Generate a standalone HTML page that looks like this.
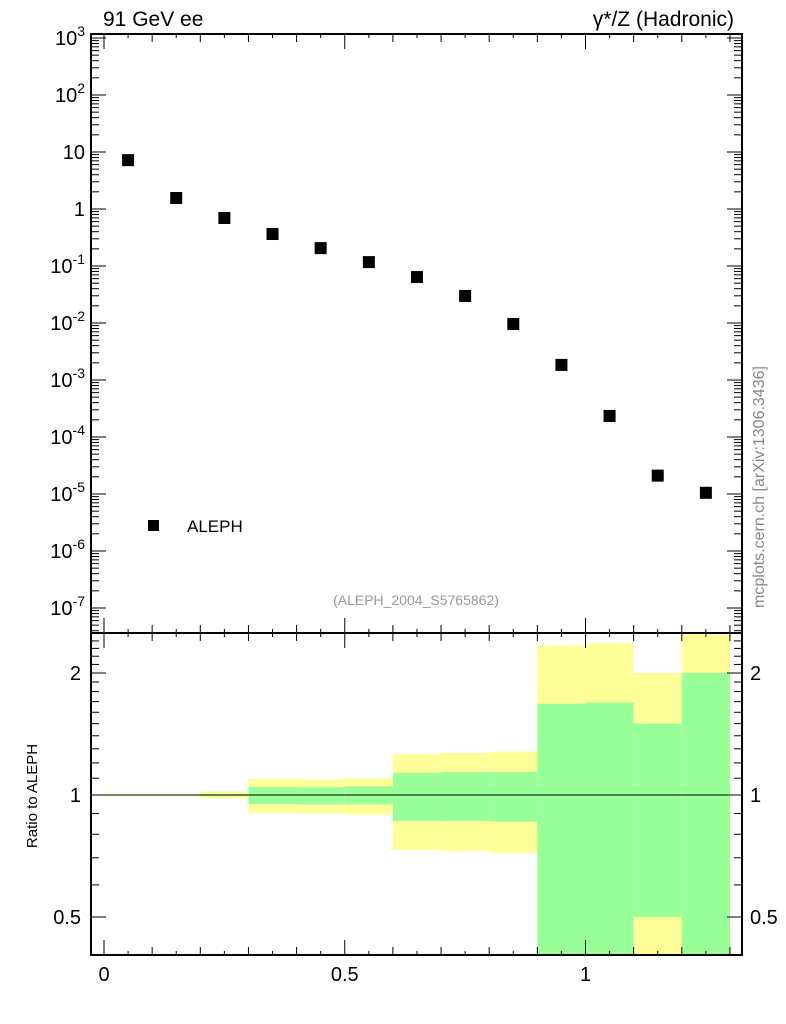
<!DOCTYPE html>
<html><head><meta charset="utf-8"><style>
body{margin:0;background:#fff}
svg{display:block;font-family:"Liberation Sans",sans-serif}
</style></head><body>
<svg id="c" width="786" height="1024" xmlns="http://www.w3.org/2000/svg"></svg>
<script>
const xCenters=[0.05,0.15,0.25,0.35,0.45,0.55,0.65,0.75,0.85,0.95,1.05,1.15,1.25];
const alephValues=[7.2,1.56,0.695,0.364,0.206,0.117,0.064,0.0298,0.0096,0.00184,0.000234,2.1e-5,1.05e-5];
const binLo=[0,0.1,0.2,0.3,0.4,0.5,0.6,0.7,0.8,0.9,1.0,1.1,1.2];
const binHi=[0.1,0.2,0.3,0.4,0.5,0.6,0.7,0.8,0.9,1.0,1.1,1.2,1.3];
const yellowUp=[1.005,1.005,1.02,1.095,1.093,1.1,1.262,1.27,1.28,2.34,2.37,2.0,2.6];
const yellowDn=[0.995,0.995,0.98,0.903,0.9,0.895,0.732,0.728,0.72,0.3,0.3,0.3,0.3];
const greenUp=[1.003,1.003,1.005,1.046,1.045,1.05,1.133,1.14,1.14,1.68,1.69,1.5,2.0];
const greenDn=[0.997,0.997,0.995,0.95,0.948,0.948,0.863,0.863,0.86,0.3,0.3,0.5,0.3];
const mainTicks=[-7,-6,-5,-4,-3,-2,-1,0,1,2,3];
const mainTickLabels=["10⁻⁷","10⁻⁶","10⁻⁵","10⁻⁴","10⁻³","10⁻²","10⁻¹","1","10","10²","10³"];
const ratioTicks=[0.5,1,2];
const xTicks=[0,0.5,1];

const NS="http://www.w3.org/2000/svg";
const svg=document.getElementById('c');
const L=91,R=742,T=34,MB=633,RB=955;
const X=v=>104+(v)*481.5;
const Y=v=>209-57*Math.log10(v);
const YR=v=>795-122*Math.log2(v);
function el(tag,attrs,parent){const e=document.createElementNS(NS,tag);for(const k in attrs)e.setAttribute(k,attrs[k]);(parent||svg).appendChild(e);return e;}
function txt(s,attrs,name){const e=el('text',attrs);e.textContent=s;

return e;}

// ratio bands
const clipR=el('clipPath',{id:'cr'});el('rect',{x:L,y:MB,width:R-L,height:RB-MB},clipR);
const bands=el('g',{'clip-path':'url(#cr)'});


for(let i=0;i<binLo.length;i++){
 const y=el('rect',{x:X(binLo[i]),y:YR(yellowUp[i]),width:X(binHi[i])-X(binLo[i]),height:YR(yellowDn[i])-YR(yellowUp[i]),fill:'#ffff99'},bands);
 
 
 const g=el('rect',{x:X(binLo[i]),y:YR(greenUp[i]),width:X(binHi[i])-X(binLo[i]),height:YR(greenDn[i])-YR(greenUp[i]),fill:'#99ff99'},bands);
 
 
}
const ref=el('line',{x1:L,x2:R,y1:YR(1),y2:YR(1),stroke:'#000','stroke-width':1});



// frames
const f1=el('rect',{x:L,y:T,width:R-L,height:MB-T,fill:'none',stroke:'#000','stroke-width':2});


const f2=el('rect',{x:L,y:MB,width:R-L,height:RB-MB,fill:'none',stroke:'#000','stroke-width':2});



const tg=el('g',{stroke:'#000','stroke-width':1});


function tick(x1,y1,x2,y2){el('line',{x1,y1,x2,y2},tg);}
// main log ticks
for(let d=-8;d<=3;d++){for(let m=1;m<10;m++){const v=m*Math.pow(10,d);const y=Y(v);if(y<T||y>MB)continue;const len=m===1?15:8;tick(L,y,L+len,y);tick(R,y,R-len,y);}}
// x ticks
for(let k=0;k<=26;k++){const v=k*0.05;const x=X(v);if(x>R)continue;const len=(k%10===0)?15:(k%2===0?8:4);
 tick(x,MB,x,MB-len);tick(x,T,x,T+len);tick(x,RB,x,RB-len);tick(x,MB,x,MB+len);}
// ratio ticks
for(let v=0.4;v<=2.5;v+=(v<1-1e-9?0.1:(v<2-1e-9?0.1:0.1))){const y=YR(v);if(y<MB||y>RB)continue;const maj=[0.5,1,2].some(a=>Math.abs(a-v)<1e-6);const len=maj?15:8;tick(L,y,L+len,y);tick(R,y,R-len,y);}

// labels
mainTicks.forEach((p,i)=>{const s=mainTickLabels[i];const e=txt('',{x:L-6,y:Y(Math.pow(10,p))+7,'font-size':20,'text-anchor':'end'},'y-tick-label');
 if(p===0||p===1){e.textContent=s;}else{e.textContent='10';const t=el('tspan',{dy:-9,'font-size':14},e);t.textContent=String(p);}});
ratioTicks.forEach(v=>{txt(String(v),{x:L-10,y:YR(v)+7,'font-size':20,'text-anchor':'end'},'ratio-tick-label');
 txt(String(v),{x:R+8,y:YR(v)+7,'font-size':20},'ratio-tick-label-right');});
xTicks.forEach(v=>txt(String(v),{x:X(v),y:981,'font-size':20,'text-anchor':'middle'},'x-tick-label'));

// points
xCenters.forEach((x,i)=>{const r=el('rect',{x:X(x)-6,y:Y(alephValues[i])-6,width:12,height:12,fill:'#000'});

});

// legend
const lm=el('rect',{x:148,y:520,width:11,height:11,fill:'#000'});


txt('ALEPH',{x:187,y:532,'font-size':17},'legend-label');

txt('91 GeV ee',{x:103,y:26,'font-size':21},'title-left');
txt('γ*/Z (Hadronic)',{x:734,y:26,'font-size':21,'text-anchor':'end'},'title-right');
txt('(ALEPH_2004_S5765862)',{x:416,y:605,'font-size':14,fill:'#999','text-anchor':'middle'},'analysis-id');
txt('Ratio to ALEPH',{x:37,y:796,'font-size':15,'text-anchor':'middle',transform:'rotate(-90 37 796)'},'ratio-y-title');
txt('mcplots.cern.ch [arXiv:1306.3436]',{x:764,y:487,'font-size':16,fill:'#888','text-anchor':'middle',transform:'rotate(-90 764 487)'},'watermark');
</script>
</body></html>
